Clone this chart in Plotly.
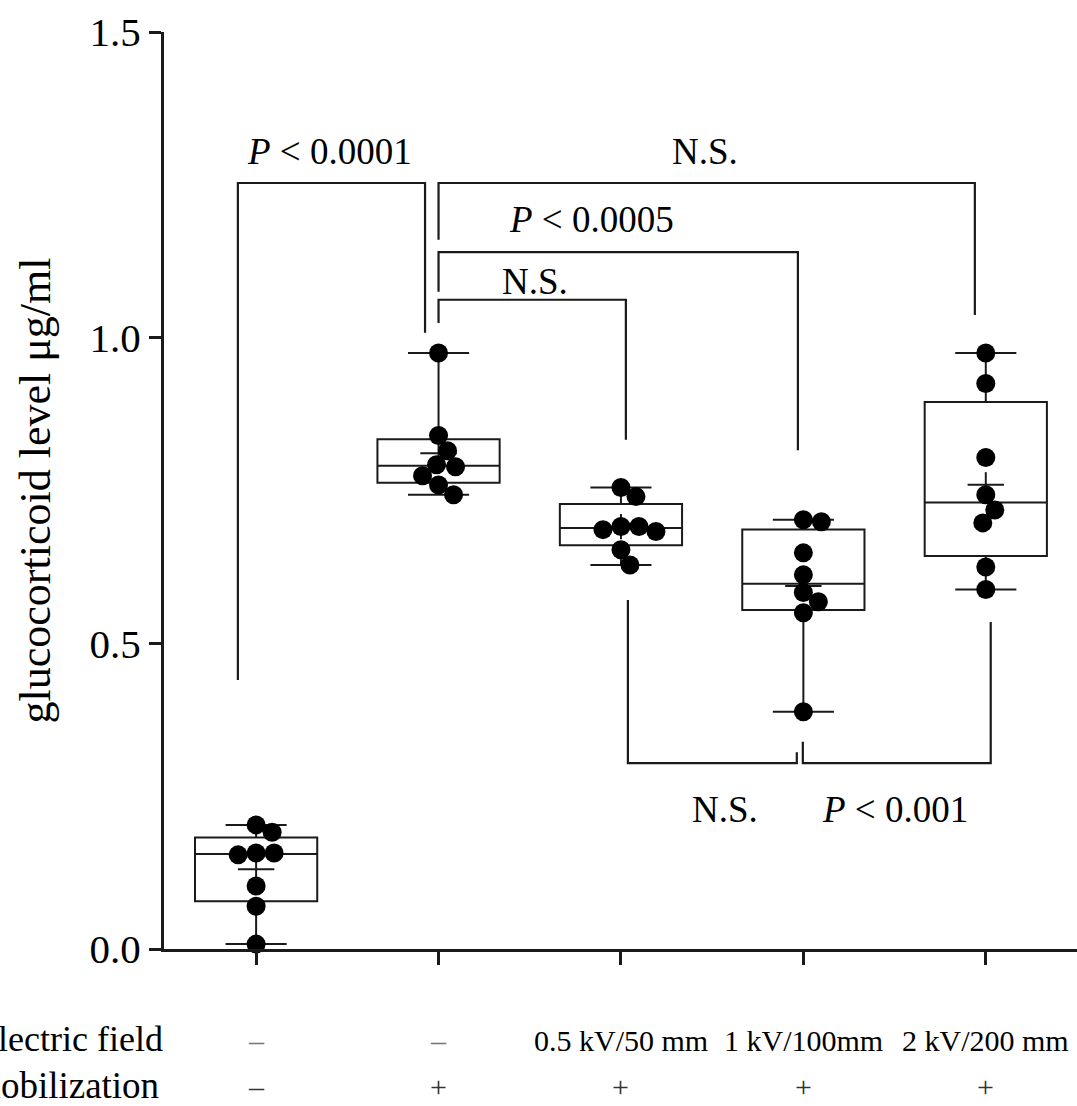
import numpy as np
import plotly.graph_objects as go

# ---------------- data ----------------
groups = ["ctrl", "immob", "0.5kV", "1kV", "2kV"]
g0 = [0.203, 0.191, 0.157, 0.154, 0.157, 0.103, 0.070, 0.008]
g1 = [0.975, 0.840, 0.815, 0.792, 0.789, 0.774, 0.759, 0.743]
g2 = [0.755, 0.740, 0.691, 0.686, 0.683, 0.691, 0.653, 0.628]
g3 = [0.702, 0.699, 0.648, 0.612, 0.583, 0.568, 0.550, 0.388]
g4 = [0.975, 0.925, 0.804, 0.743, 0.718, 0.697, 0.625, 0.588]
values = [g0, g1, g2, g3, g4]

field_labels = ["–", "–", "0.5 kV/50 mm", "1 kV/100mm", "2 kV/200 mm"]
immob_labels = ["–", "+", "+", "+", "+"]
y_ticks = [0.0, 0.5, 1.0, 1.5]

# significance brackets: (x_left, x_right, y_bar, left_leg_end, right_leg_end, label, label_x, label_y)
brackets = [
    (-0.10, 0.926, 1.253, 0.440, 1.008, "<i>P</i> < 0.0001", 0.40, 1.305),
    (1.0, 3.94, 1.253, 1.160, 1.037, "N.S.", 2.46, 1.305),
    (1.0, 2.97, 1.140, 1.075, 0.816, "<i>P</i> < 0.0005", 1.84, 1.193),
    (1.0, 2.027, 1.062, 1.024, 0.833, "N.S.", 1.53, 1.092),
    (2.038, 2.964, 0.304, 0.571, 0.322, "N.S.", 2.57, 0.228),
    (2.997, 4.027, 0.304, 0.339, 0.535, "<i>P</i> < 0.001", 3.50, 0.228),
]

# ---------------- layout constants ----------------
W, H = 1077, 1106
ML, MR, MT, MB = 164, 0, 32, 157
XR = [-0.505, 4.5]
YR = [0.0, 1.5]
px_per_x = (W - ML - MR) / (XR[1] - XR[0])
px_per_y = (H - MT - MB) / (YR[1] - YR[0])
FONT = "Liberation Serif, Times New Roman, serif"
INK = "#1a1a1a"


def swarm(vals, d=17.5):
    """simple beeswarm: x offsets (data units) so markers don't overlap"""
    order = sorted(range(len(vals)), key=lambda i: -vals[i])
    placed = []
    offs = [0.0] * len(vals)
    cands = [0.0]
    for k in range(1, 60):
        cands += [k * 1.0, -k * 1.0]
    for i in order:
        yp = vals[i] * px_per_y
        for c in cands:
            if all((c - px) ** 2 + (yp - py) ** 2 >= d * d for px, py in placed):
                break
        placed.append((c, yp))
        offs[i] = c / px_per_x
    return offs


fig = go.Figure()

for i, v in enumerate(values):
    arr = np.array(v)
    q1, med, q3 = np.percentile(arr, [25, 50, 75], method="weibull")
    fig.add_trace(go.Box(
        x=[i], q1=[q1], median=[med], q3=[q3],
        lowerfence=[arr.min()], upperfence=[arr.max()],
        width=0.67, whiskerwidth=0.5, fillcolor="white",
        line=dict(color=INK, width=2), boxpoints=False,
        showlegend=False, hoverinfo="skip",
    ))

# mean "+" markers
means = [float(np.mean(v)) for v in values]
fig.add_trace(go.Scatter(
    x=list(range(len(values))), y=means, mode="markers",
    marker=dict(symbol="line-ew", size=26, line=dict(color=INK, width=2)),
    showlegend=False, hoverinfo="skip", cliponaxis=False))
fig.add_trace(go.Scatter(
    x=list(range(len(values))), y=means, mode="markers",
    marker=dict(symbol="line-ns", size=18, line=dict(color=INK, width=2)),
    showlegend=False, hoverinfo="skip", cliponaxis=False))

# individual points
for i, v in enumerate(values):
    offs = swarm(v)
    fig.add_trace(go.Scatter(
        x=[i + o for o in offs], y=v, mode="markers",
        marker=dict(color="black", size=19),
        showlegend=False, cliponaxis=False))

shapes = []
annotations = []
for xl, xr, yb, yl, yrr, lab, lx, ly in brackets:
    path = f"M {xl},{yl} L {xl},{yb} L {xr},{yb} L {xr},{yrr}"
    shapes.append(dict(type="path", path=path, xref="x", yref="y",
                       line=dict(color=INK, width=2.2)))
    annotations.append(dict(x=lx, y=ly, xref="x", yref="y", text=lab,
                            showarrow=False, xanchor="center", yanchor="middle",
                            font=dict(family=FONT, size=37, color="black")))

plot_h = H - MT - MB
bottom_px = H - MB


def paper_y(px):
    return -(px - bottom_px) / plot_h


for i, (a, b) in enumerate(zip(field_labels, immob_labels)):
    annotations.append(dict(x=i, y=paper_y(1040), xref="x", yref="paper", text=a,
                            showarrow=False, xanchor="center", yanchor="middle",
                            font=dict(family=FONT, size=30,
                                      color="#777" if a == "–" else "black")))
    annotations.append(dict(x=i, y=paper_y(1086), xref="x", yref="paper", text=b,
                            showarrow=False, xanchor="center", yanchor="middle",
                            font=dict(family=FONT, size=30, color="#333")))
# row headers (cropped at the left edge, as in the original figure)
annotations.append(dict(x=0.001, y=paper_y(1039), xref="paper", yref="paper",
                        text="Electric field", showarrow=False, xanchor="right",
                        yanchor="middle", font=dict(family=FONT, size=36, color="black")))
annotations.append(dict(x=-0.003, y=paper_y(1085), xref="paper", yref="paper",
                        text="Immobilization", showarrow=False, xanchor="right",
                        yanchor="middle", font=dict(family=FONT, size=37, color="black")))

fig.update_layout(
    width=W, height=H,
    margin=dict(l=ML, r=MR, t=MT, b=MB, pad=0),
    paper_bgcolor="white", plot_bgcolor="white",
    showlegend=False,
    shapes=shapes, annotations=annotations,
    font=dict(family=FONT, color="black"),
    xaxis=dict(range=XR, showgrid=False, zeroline=False, showline=True,
               linecolor=INK, linewidth=3, ticks="outside", ticklen=13,
               tickwidth=3, tickcolor=INK, tickvals=list(range(len(groups))),
               ticktext=[""] * len(groups), showticklabels=False),
    yaxis=dict(range=YR, showgrid=False, zeroline=False, showline=True,
               linecolor=INK, linewidth=3, ticks="outside", ticklen=12,
               tickwidth=3, tickcolor=INK, tickvals=y_ticks, tickformat=".1f",
               tickfont=dict(family=FONT, size=41, color="black"),
               title=dict(text="glucocorticoid level μg/ml", standoff=26,
                          font=dict(family=FONT, size=44, color="black"))),
)

fig.write_html("out.html", config={"displayModeBar": False},
               post_script="document.body.style.margin='0';document.body.style.padding='0';")
